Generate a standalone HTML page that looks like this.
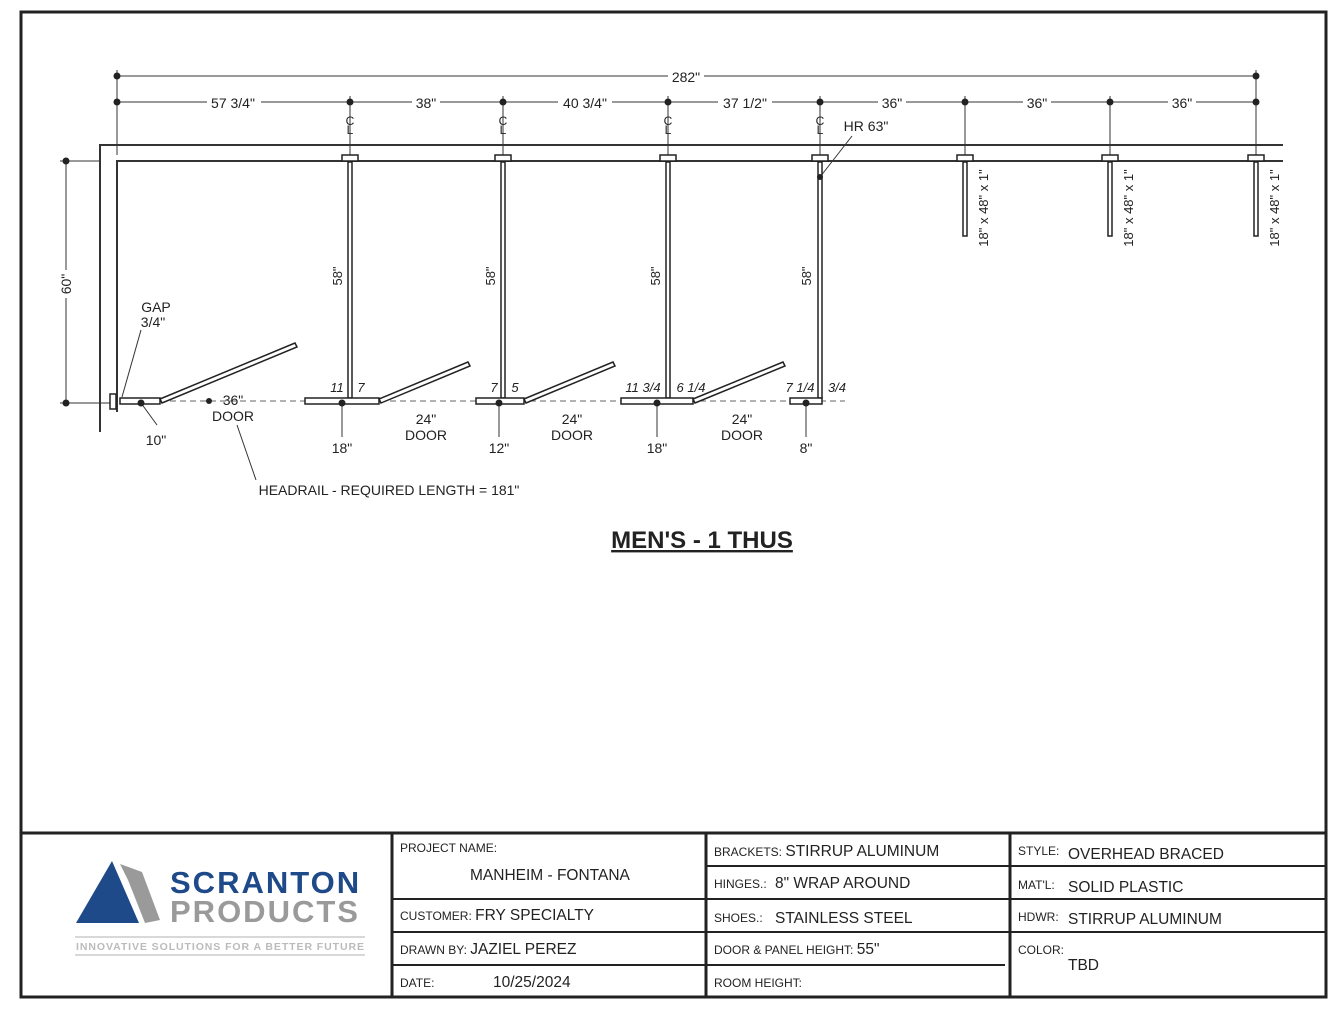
<!DOCTYPE html>
<html><head><meta charset="utf-8"><style>
body{margin:0;background:#fff;}
svg{display:block;font-family:"Liberation Sans",Arial,sans-serif;}
</style></head><body>
<svg width="1344" height="1018" viewBox="0 0 1344 1018" xmlns="http://www.w3.org/2000/svg">
<rect x="0" y="0" width="1344" height="1018" fill="#fff"/>
<rect x="21" y="12" width="1305" height="985" fill="none" stroke="#222" stroke-width="3"/>
<g stroke="#222" fill="none">
<line x1="21" y1="833" x2="1326" y2="833" stroke-width="3"/>
<line x1="392" y1="833" x2="392" y2="997" stroke-width="3"/>
<line x1="706" y1="833" x2="706" y2="997" stroke-width="3"/>
<line x1="1010" y1="833" x2="1010" y2="997" stroke-width="3"/>
<g stroke-width="2">
<line x1="392" y1="899" x2="706" y2="899"/><line x1="392" y1="932" x2="706" y2="932"/><line x1="392" y1="965" x2="706" y2="965"/>
<line x1="706" y1="866" x2="1010" y2="866"/><line x1="706" y1="899" x2="1010" y2="899"/><line x1="706" y1="932" x2="1010" y2="932"/><line x1="706" y1="965" x2="1005" y2="965"/>
<line x1="1010" y1="866" x2="1326" y2="866"/><line x1="1010" y1="899" x2="1326" y2="899"/><line x1="1010" y1="932" x2="1326" y2="932"/>
</g></g>
<g fill="#222" font-size="12">
<text x="400" y="852">PROJECT NAME:</text>
<text x="470" y="880" font-size="15.5">MANHEIM - FONTANA</text>
<text x="400" y="920">CUSTOMER: <tspan font-size="15.5">FRY SPECIALTY</tspan></text>
<text x="400" y="954">DRAWN BY:  <tspan font-size="15.5">JAZIEL PEREZ</tspan></text>
<text x="400" y="987">DATE:</text><text x="493" y="987" font-size="15.5">10/25/2024</text>
<text x="714" y="856">BRACKETS: <tspan font-size="15.5">STIRRUP ALUMINUM</tspan></text>
<text x="714" y="888">HINGES.:</text><text x="775" y="888" font-size="15.5">8" WRAP AROUND</text>
<text x="714" y="922">SHOES.:</text><text x="775" y="923" font-size="15.5">STAINLESS STEEL</text>
<text x="714" y="954">DOOR &amp; PANEL HEIGHT:  <tspan font-size="15.5">55"</tspan></text>
<text x="714" y="987">ROOM HEIGHT:</text>
<text x="1018" y="855">STYLE:</text><text x="1068" y="859" font-size="15.5">OVERHEAD BRACED</text>
<text x="1018" y="889">MAT'L:</text><text x="1068" y="892" font-size="15.5">SOLID PLASTIC</text>
<text x="1018" y="921">HDWR:</text><text x="1068" y="924" font-size="15.5">STIRRUP ALUMINUM</text>
<text x="1018" y="954">COLOR:</text><text x="1068" y="970" font-size="15.5">TBD</text>
</g>
<!-- logo -->
<polygon points="112,861 76,923 139,923" fill="#1f4a8a"/>
<polygon points="120,864 142,872 160,920 145,923 128,880" fill="#9a9a9a"/>
<text x="170" y="893" font-size="31" font-weight="bold" fill="#1f4a8a" letter-spacing="2">SCRANTON</text>
<text x="170" y="922" font-size="31" font-weight="bold" fill="#9a9a9a" letter-spacing="2">PRODUCTS</text>
<line x1="75" y1="937" x2="365" y2="937" stroke="#ccc" stroke-width="1.5"/>
<line x1="75" y1="955" x2="365" y2="955" stroke="#ccc" stroke-width="1.5"/>
<text x="76" y="950" font-size="10.5" font-weight="bold" fill="#bbb" textLength="288">INNOVATIVE SOLUTIONS FOR A BETTER FUTURE</text>
<!-- walls -->
<g stroke="#333" fill="none" stroke-width="2">
<polyline points="1283,145 100,145 100,432"/>
<polyline points="1283,161 117,161 117,412"/>
</g>
<g stroke="#333" stroke-width="1" fill="none">
<line x1="117" y1="76" x2="1256" y2="76"/>
<line x1="117" y1="102" x2="1256" y2="102"/>
<line x1="117" y1="70" x2="117" y2="155"/>
<line x1="1256" y1="70" x2="1256" y2="155"/>
<line x1="350" y1="96" x2="350" y2="155"/><line x1="503" y1="96" x2="503" y2="155"/>
<line x1="668" y1="96" x2="668" y2="155"/><line x1="820" y1="96" x2="820" y2="155"/>
<line x1="965" y1="96" x2="965" y2="155"/><line x1="1110" y1="96" x2="1110" y2="155"/>
<line x1="60" y1="161" x2="100" y2="161"/><line x1="60" y1="403" x2="110" y2="403"/>
<line x1="66" y1="161" x2="66" y2="403"/>
<line x1="160" y1="401" x2="845" y2="401" stroke-dasharray="6,4" stroke="#666"/>
<line x1="141" y1="403" x2="157" y2="425"/>
<line x1="342" y1="403" x2="342" y2="437"/><line x1="499" y1="403" x2="499" y2="437"/>
<line x1="657" y1="403" x2="657" y2="437"/><line x1="806" y1="403" x2="806" y2="437"/>
<line x1="122" y1="397" x2="141" y2="330"/>
<line x1="237" y1="425" x2="256" y2="480"/>
<line x1="820" y1="177" x2="852" y2="136"/>
</g>
<g font-size="14" fill="#222" text-anchor="middle">
<rect x="668" y="68" width="36" height="16" fill="#fff"/><text x="686" y="82">282"</text>
<rect x="207" y="94" width="54" height="16" fill="#fff"/><text x="233" y="108">57 3/4"</text>
<rect x="412" y="94" width="28" height="16" fill="#fff"/><text x="426" y="108">38"</text>
<rect x="558" y="94" width="54" height="16" fill="#fff"/><text x="585" y="108">40 3/4"</text>
<rect x="718" y="94" width="54" height="16" fill="#fff"/><text x="745" y="108">37 1/2"</text>
<rect x="878" y="94" width="28" height="16" fill="#fff"/><text x="892" y="108">36"</text>
<rect x="1023" y="94" width="28" height="16" fill="#fff"/><text x="1037" y="108">36"</text>
<rect x="1168" y="94" width="28" height="16" fill="#fff"/><text x="1182" y="108">36"</text>
<rect x="58" y="270" width="16" height="28" fill="#fff"/>
<text transform="translate(71,284) rotate(-90)">60"</text>
<text x="866" y="131">HR 63"</text>
<text x="156" y="312">GAP</text><text x="153" y="327">3/4"</text>
<text x="233" y="405">36"</text><text x="233" y="421">DOOR</text>
<text x="156" y="445">10"</text>
<text x="342" y="453">18"</text><text x="499" y="453">12"</text><text x="657" y="453">18"</text><text x="806" y="453">8"</text>
<text x="426" y="424">24"</text><text x="426" y="440">DOOR</text>
<text x="572" y="424">24"</text><text x="572" y="440">DOOR</text>
<text x="742" y="424">24"</text><text x="742" y="440">DOOR</text>
<text x="389" y="495">HEADRAIL - REQUIRED LENGTH = 181"</text>
<text x="702" y="548" font-size="24" font-weight="bold" text-decoration="underline">MEN'S - 1 THUS</text>
<g font-size="13">
<text transform="translate(342,276) rotate(-90)">58"</text>
<text transform="translate(495,276) rotate(-90)">58"</text>
<text transform="translate(660,276) rotate(-90)">58"</text>
<text transform="translate(811,276) rotate(-90)">58"</text>
<text transform="translate(988,208) rotate(-90)">18" x 48" x 1"</text>
<text transform="translate(1133,208) rotate(-90)">18" x 48" x 1"</text>
<text transform="translate(1279,208) rotate(-90)">18" x 48" x 1"</text>
</g>
<g font-size="13" font-style="italic">
<text x="337" y="392">11</text><text x="361" y="392">7</text>
<text x="494" y="392">7</text><text x="515" y="392">5</text>
<text x="643" y="392">11 3/4</text><text x="691" y="392">6 1/4</text>
<text x="800" y="392">7 1/4</text><text x="837" y="392">3/4</text>
</g>
<g font-size="12">
<text x="350" y="125">C</text><text x="503" y="125">C</text><text x="668" y="125">C</text><text x="820" y="125">C</text>
<text x="350" y="134">L</text><text x="503" y="134">L</text><text x="668" y="134">L</text><text x="820" y="134">L</text>
</g>
</g>
<g fill="#fff" stroke="#222" stroke-width="1.5">
<rect x="342" y="155" width="16" height="6"/><rect x="495" y="155" width="16" height="6"/><rect x="660" y="155" width="16" height="6"/>
<rect x="812" y="155" width="16" height="6"/><rect x="957" y="155" width="16" height="6"/><rect x="1102" y="155" width="16" height="6"/><rect x="1248" y="155" width="16" height="6"/>
<rect x="348" y="162" width="4" height="236"/><rect x="501" y="162" width="4" height="236"/>
<rect x="666" y="162" width="4" height="236"/><rect x="818" y="162" width="4" height="236"/>
<rect x="963" y="162" width="4" height="74"/><rect x="1108" y="162" width="4" height="74"/><rect x="1254" y="162" width="4" height="74"/>
<rect x="120" y="398" width="40" height="6"/><rect x="305" y="398" width="74" height="6"/>
<rect x="476" y="398" width="48" height="6"/><rect x="621" y="398" width="72" height="6"/><rect x="790" y="398" width="32" height="6"/>
<rect x="110" y="394" width="6" height="15"/>
<polygon points="160,399 295,343 297,347 162,403"/>
<polygon points="379,399 468,362 470,366 381,403"/>
<polygon points="524,399 613,362 615,366 526,403"/>
<polygon points="693,399 783,362 785,366 695,403"/>
</g>
<g fill="#222">
<circle cx="117" cy="76" r="3.5"/><circle cx="1256" cy="76" r="3.5"/>
<circle cx="117" cy="102" r="3.5"/><circle cx="350" cy="102" r="3.5"/><circle cx="503" cy="102" r="3.5"/><circle cx="668" cy="102" r="3.5"/>
<circle cx="820" cy="102" r="3.5"/><circle cx="965" cy="102" r="3.5"/><circle cx="1110" cy="102" r="3.5"/><circle cx="1256" cy="102" r="3.5"/>
<circle cx="66" cy="161" r="3.5"/><circle cx="66" cy="403" r="3.5"/>
<circle cx="141" cy="403" r="3.5"/><circle cx="342" cy="403" r="3.5"/><circle cx="499" cy="403" r="3.5"/><circle cx="657" cy="403" r="3.5"/><circle cx="806" cy="403" r="3.5"/>
<circle cx="209" cy="401" r="3"/><circle cx="820" cy="177" r="3"/>
</g>
</svg>
</body></html>
